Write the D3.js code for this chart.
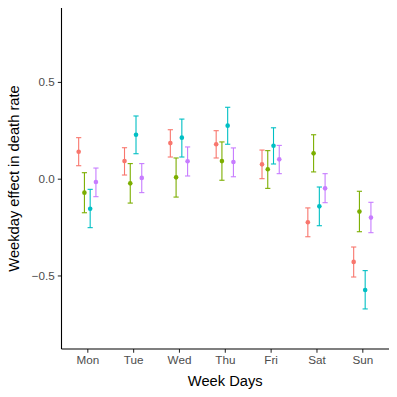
<!DOCTYPE html>
<html>
<head>
<meta charset="utf-8">
<script src="https://cdn.jsdelivr.net/npm/d3@7"></script>
<style>
  body { margin: 0; background: #fff; }
  svg { font-family: "Liberation Sans", Arial, sans-serif; }
</style>
</head>
<body>
<div id="chart"></div>
<script>
// weekday effects, four groups per day (estimate, lower, upper)
const days = ["Mon", "Tue", "Wed", "Thu", "Fri", "Sat", "Sun"];
const groups = ["g1", "g2", "g3", "g4"];
const colors = ["#F8766D", "#7CAE00", "#00BFC4", "#C77CFF"];
const yTicks = [-0.5, 0, 0.5];

const est1 = [0.139, 0.091, 0.184, 0.178, 0.074, -0.225, -0.430];
const lo1  = [0.067, 0.019, 0.112, 0.107, 0.000, -0.300, -0.508];
const hi1  = [0.212, 0.160, 0.253, 0.248, 0.148, -0.151, -0.353];

const est2 = [-0.072, -0.024, 0.007, 0.091, 0.049, 0.131, -0.170];
const lo2  = [-0.176, -0.126, -0.095, -0.008, -0.050, 0.035, -0.274];
const hi2  = [0.031, 0.078, 0.107, 0.190, 0.145, 0.227, -0.065];

const est3 = [-0.155, 0.227, 0.212, 0.274, 0.170, -0.143, -0.575];
const lo3  = [-0.253, 0.129, 0.112, 0.178, 0.076, -0.243, -0.673];
const hi3  = [-0.055, 0.324, 0.308, 0.369, 0.263, -0.043, -0.475];

const est4 = [-0.017, 0.004, 0.090, 0.086, 0.100, -0.050, -0.201];
const lo4  = [-0.093, -0.072, 0.014, 0.010, 0.026, -0.124, -0.279];
const hi4  = [0.055, 0.078, 0.164, 0.159, 0.172, 0.026, -0.122];

const series = [[est1, lo1, hi1], [est2, lo2, hi2], [est3, lo3, hi3], [est4, lo4, hi4]];
const points = [];
series.forEach((s, gi) => {
  days.forEach((d, di) => {
    points.push({day: d, group: groups[gi], est: s[0][di], lo: s[1][di], hi: s[2][di], color: colors[gi]});
  });
});

const width = 397, height = 397;
const margin = {left: 61.5, right: 389, top: 8, bottom: 349};

const svg = d3.select("#chart").append("svg")
  .attr("width", width)
  .attr("height", height);

const x = d3.scalePoint()
  .domain(days)
  .range([87.3, 362.3]);

const dodge = d3.scaleBand()
  .domain(groups)
  .range([-11.5, 11.5]);

const y = d3.scaleLinear()
  .domain([-0.88, 0.882])
  .range([margin.bottom, margin.top]);

// error bars
const cap = 2.6;
const bars = svg.append("g").selectAll("g")
  .data(points)
  .join("g")
  .attr("stroke", d => d.color)
  .attr("stroke-width", 1.1)
  .attr("transform", d => `translate(${x(d.day) + dodge(d.group) + dodge.bandwidth() / 2},0)`);

bars.append("line")
  .attr("x1", 0).attr("x2", 0)
  .attr("y1", d => y(d.lo)).attr("y2", d => y(d.hi));
bars.append("line")
  .attr("x1", -cap).attr("x2", cap)
  .attr("y1", d => y(d.lo)).attr("y2", d => y(d.lo));
bars.append("line")
  .attr("x1", -cap).attr("x2", cap)
  .attr("y1", d => y(d.hi)).attr("y2", d => y(d.hi));

bars.append("circle")
  .attr("cx", 0)
  .attr("cy", d => y(d.est))
  .attr("r", 2.3)
  .attr("fill", d => d.color)
  .attr("stroke", "none");

// axes
const xAxis = svg.append("g")
  .attr("transform", `translate(0,${margin.bottom})`)
  .call(d3.axisBottom(x).tickSize(3.7).tickPadding(3));
xAxis.select(".domain").remove();
xAxis.append("line")
  .attr("x1", margin.left).attr("x2", margin.right)
  .attr("stroke", "#000").attr("stroke-width", 1.1);

const yAxis = svg.append("g")
  .attr("transform", `translate(${margin.left},0)`)
  .call(d3.axisLeft(y).tickValues(yTicks).tickSize(3.7).tickPadding(3)
    .tickFormat(d => d === 0 ? "0.0" : d3.format(".1f")(d).replace("-", "\u2212")));
yAxis.select(".domain").remove();
yAxis.append("line")
  .attr("y1", margin.top).attr("y2", margin.bottom)
  .attr("stroke", "#000").attr("stroke-width", 1.1);

svg.selectAll(".tick line").attr("stroke", "#333").attr("stroke-width", 1.1);
svg.selectAll(".tick text")
  .attr("fill", "#4D4D4D")
  .style("font-size", "11.7px")
  .style("font-family", "'Liberation Sans', Arial, sans-serif");

// titles
svg.append("text")
  .attr("x", (margin.left + margin.right) / 2)
  .attr("y", 386)
  .attr("text-anchor", "middle")
  .style("font-size", "14.7px")
  .text("Week Days");

svg.append("text")
  .attr("transform", `translate(19,${(margin.top + margin.bottom) / 2}) rotate(-90)`)
  .attr("text-anchor", "middle")
  .style("font-size", "14.7px")
  .text("Weekday effect in death rate");
</script>
</body>
</html>
